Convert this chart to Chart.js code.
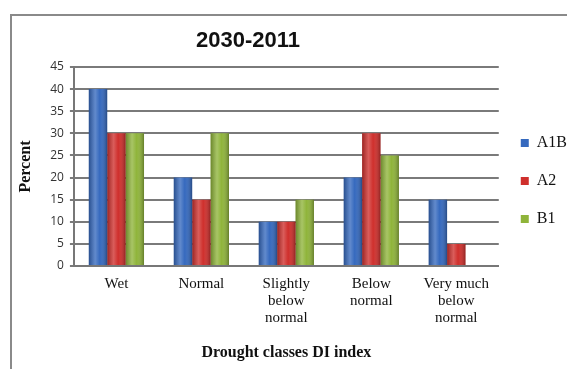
<!DOCTYPE html>
<html>
<head>
<meta charset="utf-8">
<script src="https://cdn.jsdelivr.net/npm/chart.js@4/dist/chart.umd.min.js"></script>
<style>
    body { margin: 0; background: #fff; }
    #wrap { position: relative; width: 567px; height: 369px; overflow: hidden; }
    #frame { position: absolute; left: 10px; top: 14px; width: 570px; height: 370px; border: 2px solid #8a8a8a; box-sizing: border-box; }
    canvas { position: absolute; left: 0; top: 0; }
</style>
</head>
<body>
<div id="wrap">
    <div id="frame"></div>
    <canvas id="chart" width="567" height="369"></canvas>
</div>
<script>
const titleText = "2030-2011";
const categories = ["Wet", "Normal", ["Slightly", "below", "normal"], ["Below", "normal"], ["Very much", "below", "normal"]];
const a1b = [40, 20, 10, 20, 15];
const a2 = [30, 15, 10, 30, 5];
const b1 = [30, 30, 15, 25, 0];
const yTicks = [0, 5, 10, 15, 20, 25, 30, 35, 40, 45];

const serif = "Times New Roman, Liberation Serif";

// cylinder-ish shading over every bar, like the office chart
const shade = {
    id: "shade",
    afterDatasetsDraw(chart) {
        const ctx = chart.ctx;
        chart.data.datasets.forEach((ds, i) => {
            chart.getDatasetMeta(i).data.forEach(bar => {
                const {x, y, base, width} = bar.getProps(["x", "y", "base", "width"], true);
                if (base - y < 1) return;
                const g = ctx.createLinearGradient(x - width / 2, 0, x + width / 2, 0);
                g.addColorStop(0, "rgba(0,0,0,0.25)");
                g.addColorStop(0.35, "rgba(255,255,255,0.22)");
                g.addColorStop(0.6, "rgba(255,255,255,0)");
                g.addColorStop(1, "rgba(0,0,0,0.3)");
                ctx.save();
                ctx.fillStyle = g;
                ctx.fillRect(x - width / 2, y, width, base - y);
                ctx.restore();
            });
        });
    }
};

// title sits left of the canvas centre in the original, so draw it by hand
const topTitle = {
    id: "topTitle",
    afterDraw(chart) {
        const ctx = chart.ctx;
        ctx.save();
        ctx.font = "bold 22px Arial, Liberation Sans";
        ctx.fillStyle = "#111";
        ctx.textAlign = "center";
        ctx.textBaseline = "middle";
        ctx.fillText(titleText, 248, 41);
        ctx.restore();
    }
};

new Chart(document.getElementById("chart"), {
    type: "bar",
    data: {
        labels: categories,
        datasets: [
            {label: "A1B", data: a1b, backgroundColor: "#3569be"},
            {label: "A2", data: a2, backgroundColor: "#cf2f2c"},
            {label: "B1", data: b1, backgroundColor: "#8fb43a"}
        ]
    },
    plugins: [shade, topTitle],
    options: {
        responsive: false,
        animation: false,
        layout: {padding: {left: 16, right: -10, top: 67, bottom: 7}},
        datasets: {bar: {categoryPercentage: 0.65, barPercentage: 1}},
        plugins: {
            title: {display: false},
            legend: {
                position: "right",
                align: "start",
                title: {display: true, text: " ", font: {size: 20}, padding: 11},
                labels: {
                    boxWidth: 8,
                    boxHeight: 8,
                    padding: 22,
                    color: "#111",
                    font: {family: serif, size: 16}
                }
            },
            tooltip: {enabled: false}
        },
        scales: {
            x: {
                grid: {display: false, drawTicks: false},
                border: {color: "#777", width: 2},
                ticks: {
                    color: "#111",
                    font: {family: serif, size: 15, lineHeight: 1.15},
                    maxRotation: 0,
                    autoSkip: false,
                    padding: 9
                },
                title: {
                    display: true,
                    text: "Drought classes DI index",
                    color: "#111",
                    font: {family: serif, size: 16, weight: "bold"},
                    padding: {top: 7, bottom: 0}
                }
            },
            y: {
                min: 0,
                max: 45,
                afterBuildTicks: axis => { axis.ticks = yTicks.map(v => ({value: v})); },
                grid: {color: "#7a7a7a", lineWidth: 2, tickLength: 4, drawTicks: true},
                border: {color: "#777", width: 2},
                ticks: {
                    color: "#333",
                    font: {family: "Open Sans, Arial", size: 12},
                    padding: 6
                },
                title: {
                    display: true,
                    text: "Percent",
                    color: "#111",
                    font: {family: serif, size: 16, weight: "bold"},
                    padding: {top: 0, bottom: 9}
                }
            }
        }
    }
});
</script>
</body>
</html>
